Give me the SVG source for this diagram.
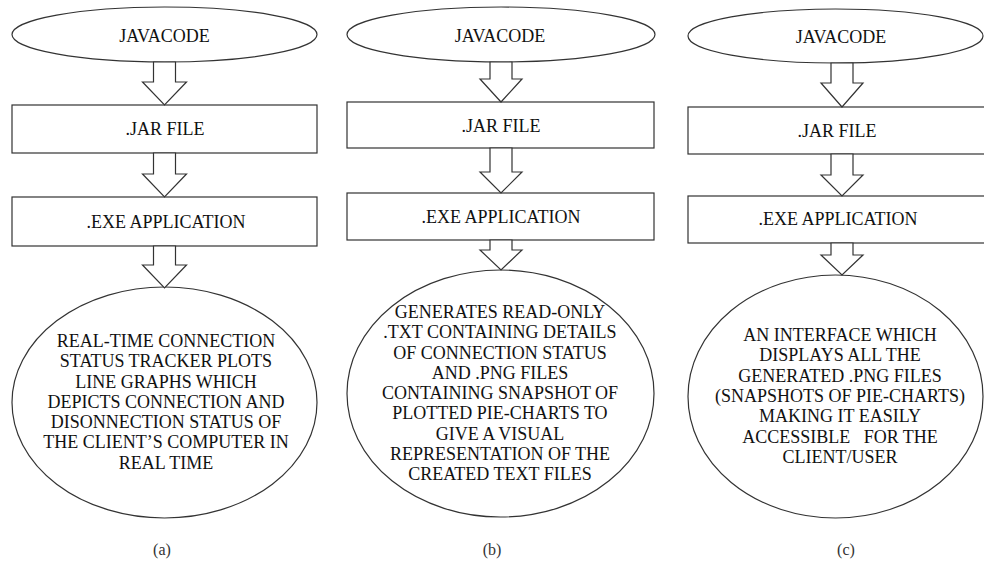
<svg xmlns="http://www.w3.org/2000/svg" width="984" height="561" viewBox="0 0 984 561">
<style>
  .shape { fill: #ffffff; stroke: #333333; stroke-width: 1.2; }
  .arrow { fill: #ffffff; stroke: #333333; stroke-width: 1.2; stroke-linejoin: miter; }
  .lbl { font-family: 'Liberation Serif', 'DejaVu Serif', serif; font-size: 18px; fill: #111111; text-anchor: middle; }
  .body { font-family: 'Liberation Serif', 'DejaVu Serif', serif; font-size: 18px; fill: #111111; text-anchor: middle; }
  .cap { font-family: 'Liberation Serif', 'DejaVu Serif', serif; font-size: 16px; fill: #333333; text-anchor: middle; }
</style>
<rect width="984" height="561" fill="#ffffff"/>

<!-- Column (a) -->
<g id="a-java">
  <ellipse class="shape" cx="164.5" cy="34.5" rx="152.5" ry="27.5"/>
  <text class="lbl" x="164.5" y="41.5">JAVACODE</text>
</g>
<g id="a-jar">
  <rect class="shape" x="12" y="105" width="305" height="48"/>
  <text class="lbl" x="165" y="134.5">.JAR FILE</text>
</g>
<g id="a-exe">
  <rect class="shape" x="12" y="197" width="305" height="49"/>
  <text class="lbl" x="166" y="227.5">.EXE APPLICATION</text>
</g>
<g id="a-result">
  <ellipse class="shape" cx="164.5" cy="402.5" rx="152.5" ry="115.5"/>
  <text class="body" x="166" y="347">REAL-TIME CONNECTION</text>
  <text class="body" x="166" y="367">STATUS TRACKER PLOTS</text>
  <text class="body" x="166" y="388">LINE GRAPHS WHICH</text>
  <text class="body" x="166" y="408">DEPICTS CONNECTION AND</text>
  <text class="body" x="166" y="428">DISONNECTION STATUS OF</text>
  <text class="body" x="166" y="448">THE CLIENT’S COMPUTER IN</text>
  <text class="body" x="166" y="469">REAL TIME</text>
</g>
<text class="cap" x="162" y="555">(a)</text>

<!-- Column (b) -->
<g id="b-java">
  <ellipse class="shape" cx="501" cy="34.5" rx="154" ry="27.5"/>
  <text class="lbl" x="500" y="41.5">JAVACODE</text>
</g>
<g id="b-jar">
  <rect class="shape" x="347" y="102" width="307" height="46"/>
  <text class="lbl" x="501" y="131.5">.JAR FILE</text>
</g>
<g id="b-exe">
  <rect class="shape" x="347" y="193" width="307" height="47"/>
  <text class="lbl" x="501" y="222.5">.EXE APPLICATION</text>
</g>
<g id="b-result">
  <ellipse class="shape" cx="500.5" cy="393.5" rx="153.5" ry="123.5"/>
  <text class="body" x="500" y="318">GENERATES READ-ONLY</text>
  <text class="body" x="500" y="338">.TXT CONTAINING DETAILS</text>
  <text class="body" x="500" y="358.5">OF CONNECTION STATUS</text>
  <text class="body" x="500" y="379">AND .PNG FILES</text>
  <text class="body" x="500" y="399">CONTAINING SNAPSHOT OF</text>
  <text class="body" x="500" y="419">PLOTTED PIE-CHARTS TO</text>
  <text class="body" x="500" y="440">GIVE A VISUAL</text>
  <text class="body" x="500" y="460">REPRESENTATION OF THE</text>
  <text class="body" x="500" y="480">CREATED TEXT FILES</text>
</g>
<text class="cap" x="492" y="555">(b)</text>

<!-- Column (c) -->
<g id="c-java">
  <ellipse class="shape" cx="835.5" cy="36" rx="147.5" ry="27"/>
  <text class="lbl" x="841" y="43">JAVACODE</text>
</g>
<g id="c-jar">
  <rect class="shape" x="688" y="107" width="302" height="47"/>
  <text class="lbl" x="837" y="137">.JAR FILE</text>
</g>
<g id="c-exe">
  <rect class="shape" x="688" y="196" width="302" height="47"/>
  <text class="lbl" x="838" y="224.5">.EXE APPLICATION</text>
</g>
<g id="c-result">
  <ellipse class="shape" cx="835.5" cy="396.5" rx="147.5" ry="121.5"/>
  <text class="body" x="840" y="341">AN INTERFACE WHICH</text>
  <text class="body" x="840" y="361">DISPLAYS ALL THE</text>
  <text class="body" x="840" y="382">GENERATED .PNG FILES</text>
  <text class="body" x="840" y="402">(SNAPSHOTS OF PIE-CHARTS)</text>
  <text class="body" x="840" y="422">MAKING IT EASILY</text>
  <text class="body" x="840" y="443" style="white-space:pre">ACCESSIBLE   FOR THE</text>
  <text class="body" x="840" y="463">CLIENT/USER</text>
</g>
<text class="cap" x="846" y="555">(c)</text>

<!-- Connectors -->
<g id="connectors">
  <polygon class="arrow" points="153.5,62 175.5,62 175.5,82 186.5,82 164.5,105 142.5,82 153.5,82"/>
  <polygon class="arrow" points="153.5,153 175.5,153 175.5,174 186.5,174 164.5,197 142.5,174 153.5,174"/>
  <polygon class="arrow" points="153.5,246 175.5,246 175.5,265 186.5,265 164.5,288 142.5,265 153.5,265"/>

  <polygon class="arrow" points="490,62 512,62 512,79 522,79 501,102 480,79 490,79"/>
  <polygon class="arrow" points="490,148 512,148 512,172 522,172 501,193 480,172 490,172"/>
  <polygon class="arrow" points="490,240 512,240 512,250 522,250 501,270 480,250 490,250"/>

  <polygon class="arrow" points="831,63 853,63 853,83 863,83 842,107 821,83 831,83"/>
  <polygon class="arrow" points="831,154 853,154 853,175 863,175 842,196 821,175 831,175"/>
  <polygon class="arrow" points="831,243 853,243 853,255 863,255 842,275 821,255 831,255"/>
</g>
</svg>
